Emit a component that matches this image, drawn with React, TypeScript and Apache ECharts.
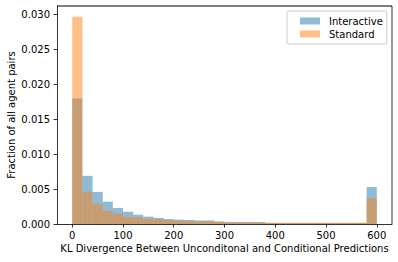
import React, { useEffect, useRef } from "react";
import * as echarts from "echarts";

const binEdges = [0, 20, 40, 60, 80, 100, 120, 140, 160, 180, 200, 220, 240, 260, 280, 300, 320, 340, 360, 380, 400, 420, 440, 460, 480, 500, 520, 540, 560, 580, 600];
const interactive = [0.0180, 0.0069, 0.0046, 0.0032, 0.0023, 0.00175, 0.00133, 0.00105, 0.00088, 0.00072, 0.00062, 0.00058, 0.00051, 0.00051, 0.00033, 0.0003, 0.0003, 0.0003, 0.0003, 0.00015, 0.00015, 0.00015, 0.00015, 0.00015, 0.00015, 0.00015, 0.00015, 0.00015, 0.00015, 0.0053];
const standard = [0.0297, 0.0046, 0.0029, 0.0019, 0.00147, 0.00105, 0.00095, 0.00078, 0.0007, 0.00052, 0.00047, 0.00042, 0.00037, 0.00037, 0.00037, 0.00022, 0.00022, 0.00022, 0.00022, 0.00019, 0.00019, 0.00019, 0.00019, 0.00019, 0.00019, 0.00019, 0.00019, 0.00019, 0.00019, 0.0037];
const xTicks = [0, 100, 200, 300, 400, 500, 600];
const yTicks = [0, 0.005, 0.01, 0.015, 0.02, 0.025, 0.03];
const seriesNames = ["Interactive", "Standard"];
const xTitle = "KL Divergence Between Unconditonal and Conditional Predictions";
const yTitle = "Fraction of all agent pairs";

const FONT = "DejaVu Sans";
const GRID = { left: 57, top: 6, right: 6, bottom: 38 };
const W = 398;
const H = 262;
const X_MIN = -30;
const X_MAX = 630;
const Y_MAX = 0.03124;

function toData(vals: number[]) {
  return vals.map((v, i) => [binEdges[i], binEdges[i + 1], v]);
}

function makeSeries(name: string, vals: number[], fill: string) {
  return {
    type: "custom",
    name,
    data: toData(vals),
    dimensions: ["x0", "x1", "y"],
    encode: { x: [0, 1], y: 2 },
    itemStyle: { color: fill },
    renderItem: (params: any, api: any) => {
      const x0 = api.value(0);
      const x1 = api.value(1);
      const y = api.value(2);
      const p0 = api.coord([x0, y]);
      const p1 = api.coord([x1, 0]);
      return {
        type: "rect",
        shape: { x: p0[0], y: p0[1], width: p1[0] - p0[0], height: p1[1] - p0[1] },
        style: { fill },
      };
    },
  };
}

export default function App() {
  const ref = useRef<HTMLDivElement>(null);
  useEffect(() => {
    if (!ref.current) return;
    const chart = echarts.init(ref.current, null, { renderer: "svg" });
    const r = W - GRID.right;
    const b = H - GRID.bottom;
    chart.setOption({
      animation: false,
      textStyle: { fontFamily: FONT },
      grid: { left: GRID.left, right: GRID.right, top: GRID.top, bottom: GRID.bottom },
      legend: {
        orient: "vertical",
        left: 287,
        top: 11,
        padding: [5, 4, 5, 13],
        borderColor: "#cccccc",
        borderWidth: 1,
        borderRadius: 2,
        backgroundColor: "#fff",
        itemWidth: 20,
        itemHeight: 7,
        itemGap: 3,
        icon: "rect",
        textStyle: { fontFamily: FONT, fontSize: 10, color: "#000", padding: [0, 0, 0, 4] },
        data: [
          { name: seriesNames[0], itemStyle: { color: "#8fbbd9" } },
          { name: seriesNames[1], itemStyle: { color: "#ffbf86" } },
        ],
      },
      xAxis: {
        type: "value",
        min: X_MIN,
        max: X_MAX,
        splitLine: { show: false },
        axisLine: { show: true, onZero: false, lineStyle: { color: "#000", width: 0.8 } },
        axisTick: { show: true, length: 3.5, customValues: xTicks, lineStyle: { color: "#000", width: 0.8 } },
        axisLabel: {
          customValues: xTicks,
          margin: 6,
          fontFamily: FONT,
          fontSize: 10,
          color: "#000",
        },
      },
      yAxis: {
        type: "value",
        min: 0,
        max: Y_MAX,
        splitLine: { show: false },
        axisLine: { show: true, onZero: false, lineStyle: { color: "#000", width: 0.8 } },
        axisTick: { show: true, length: 3.5, customValues: yTicks, lineStyle: { color: "#000", width: 0.8 } },
        axisLabel: {
          customValues: yTicks,
          margin: 7,
          fontFamily: FONT,
          fontSize: 10,
          color: "#000",
          formatter: (v: number) => v.toFixed(3),
        },
      },
      graphic: {
        elements: [
          {
            type: "rect",
            z: 100,
            silent: true,
            shape: { x: GRID.left, y: GRID.top - 0.4, width: r - GRID.left, height: 0.8 },
            style: { fill: "#000" },
          },
          {
            type: "rect",
            z: 100,
            silent: true,
            shape: { x: r - 0.4, y: GRID.top, width: 0.8, height: b - GRID.top },
            style: { fill: "#000" },
          },
          {
            type: "text",
            x: 224.5,
            y: 248.5,
            style: {
              text: xTitle,
              fontFamily: FONT,
              fontSize: 10,
              fill: "#000",
              textAlign: "center",
              textVerticalAlign: "middle",
            },
          },
          {
            type: "text",
            x: 11,
            y: 115,
            rotation: Math.PI / 2,
            style: {
              text: yTitle,
              fontFamily: FONT,
              fontSize: 10,
              fill: "#000",
              textAlign: "center",
              textVerticalAlign: "middle",
            },
          },
        ],
      },
      series: [
        makeSeries(seriesNames[0], interactive, "rgba(31,119,180,0.5)"),
        makeSeries(seriesNames[1], standard, "rgba(255,127,14,0.5)"),
      ],
    });
    return () => chart.dispose();
  }, []);
  return (
    <div
      ref={ref}
      style={{ position: "fixed", left: 0, top: 0, width: W, height: H, background: "#fff" }}
    />
  );
}
